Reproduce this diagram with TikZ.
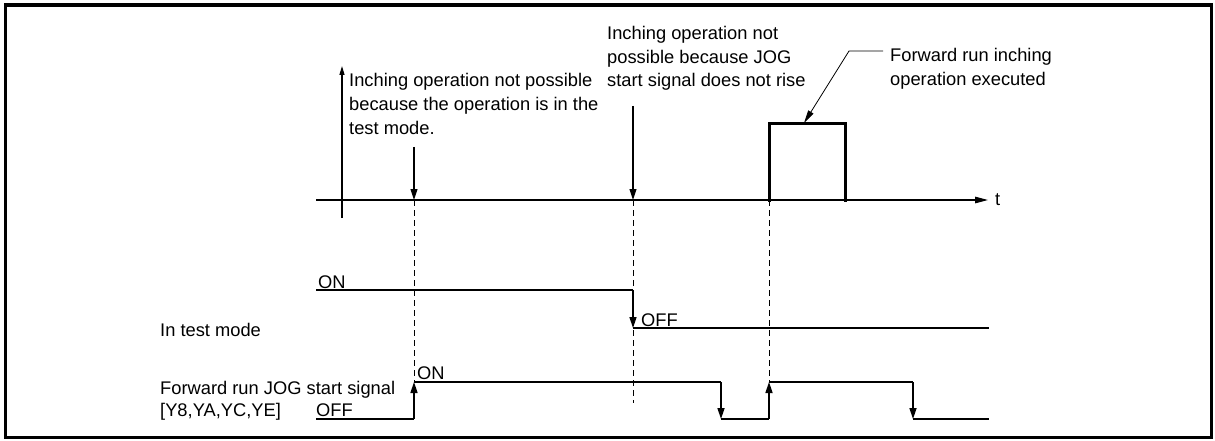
\documentclass[tikz,border=0pt]{standalone}
\usepackage{fontspec}
\setmainfont{Liberation Sans}
\usetikzlibrary{arrows.meta}
\begin{document}
\begin{tikzpicture}[x=1pt,y=-1pt,
  txt/.style={inner sep=0pt,anchor=base west,font=\fontsize{18.3}{22}\selectfont},
  sig/.style={line width=1.6pt},
  sigarrow/.style={line width=1.6pt,-{Triangle[length=11pt,width=7pt]}},
  annarrow/.style={line width=1.1pt,-{Triangle[length=11pt,width=7pt]}},
  guide/.style={line width=1pt,dash pattern=on 6pt off 4pt},
  pulse/.style={line width=3pt,line join=miter,line cap=rect},
  frame/.style={line width=3.3pt}]
\useasboundingbox (0,0) rectangle (1215,441);
\draw[frame] (5.5,5) rectangle (1211.5,437.5);

% axes
\coordinate (tx0) at (316,200);
\coordinate (tx1) at (988,200);
\draw[line width=1.3pt,-{Triangle[length=13pt,width=6.5pt]}] (tx0) -- (tx1);
\node[txt] (tlab) at (995,205) {t};
\coordinate (vy0) at (342,218);
\coordinate (vy1) at (342,66);
\draw[line width=1.3pt,-{Triangle[length=9pt,width=5pt]}] (vy0) -- (vy1);

% annotation texts
\node[txt] (l1a) at (349,87) {Inching operation not possible};
\node[txt] (l1b) at (349,111) {because the operation is in the};
\node[txt] (l1c) at (349,135) {test mode.};
\node[txt] (l2a) at (607,40) {Inching operation not};
\node[txt] (l2b) at (607,63.5) {possible because JOG};
\node[txt] (l2c) at (607,87) {start signal does not rise};
\node[txt] (l3a) at (890,62) {Forward run inching};
\node[txt] (l3b) at (890,85.5) {operation executed};

% annotation arrows
\coordinate (a1s) at (414,147);
\coordinate (a1e) at (414,200);
\draw[annarrow] (a1s) -- (a1e);
\coordinate (a2s) at (633,106);
\coordinate (a2e) at (633,200);
\draw[annarrow] (a2s) -- (a2e);

% pulse
\coordinate (p0) at (769,200);
\coordinate (p1) at (769,124);
\coordinate (p2) at (845,124);
\coordinate (p3) at (845,200);
\draw[pulse] (p0) -- (p1) -- (p2) -- (p3);

% leader to pulse
\coordinate (ld0) at (883,51);
\coordinate (ld1) at (849,51);
\coordinate (ld2) at (804,123);
\draw[line width=0.8pt,-{Triangle[length=13pt,width=6pt]}] (ld0) -- (ld1) -- (ld2);

% guide lines
\coordinate (g1e) at (414,382);
\coordinate (g2e) at (633,403);
\coordinate (g3e) at (769,382);
\draw[guide] (a1e) -- (g1e);
\draw[guide] (a2e) -- (g2e);
\draw[guide] (p0) -- (g3e);

% in test mode signal
\node[txt] (tmlab) at (160,336) {In test mode};
\node[txt] (tmon) at (318,288) {ON};
\node[txt] (tmoff) at (641,326) {OFF};
\coordinate (t0) at (316,290);
\coordinate (t1) at (633,290);
\coordinate (t2) at (633,328);
\coordinate (t3) at (989,328);
\draw[sig] (t0) -- (t1);
\draw[sigarrow] (t1) -- (t2);
\draw[sig] (t2) -- (t3);

% JOG start signal
\node[txt] (jlab1) at (160,394) {Forward run JOG start signal};
\node[txt] (jlab2) at (160,416) {[Y8,YA,YC,YE]};
\node[txt] (joff) at (316,416) {OFF};
\node[txt] (jon) at (417,379) {ON};
\coordinate (j0) at (316,419);
\coordinate (j1) at (414,419);
\coordinate (j2) at (414,382);
\coordinate (j3) at (721,382);
\coordinate (j4) at (721,419);
\coordinate (j5) at (769,419);
\coordinate (j6) at (769,382);
\coordinate (j7) at (913,382);
\coordinate (j8) at (913,419);
\coordinate (j9) at (989,419);
\draw[sig] (j0) -- (j1);
\draw[sigarrow] (j1) -- (j2);
\draw[sig] (j2) -- (j3);
\draw[sigarrow] (j3) -- (j4);
\draw[sig] (j4) -- (j5);
\draw[sigarrow] (j5) -- (j6);
\draw[sig] (j6) -- (j7);
\draw[sigarrow] (j7) -- (j8);
\draw[sig] (j8) -- (j9);
\end{tikzpicture}
\end{document}
